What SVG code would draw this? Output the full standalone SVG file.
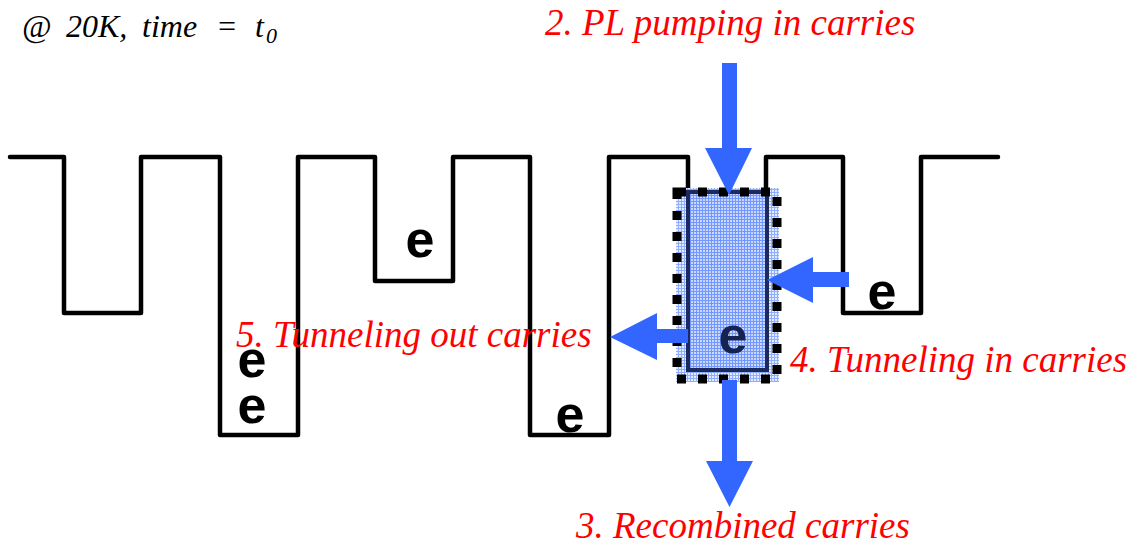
<svg xmlns="http://www.w3.org/2000/svg" width="1137" height="547" viewBox="0 0 1137 547">
<style>
.lbl{font-size:37px;fill:#ff0000}
.hdr{font-size:32px;fill:#000}
.e{font-weight:bold;font-size:52px;fill:#000;text-anchor:middle}
.wall{fill:none;stroke:#000;stroke-width:4.5;stroke-linejoin:round;stroke-linecap:round}
.arr{fill:#3366ff}
</style>
<defs>
<pattern id="grid" width="3" height="3" patternUnits="userSpaceOnUse">
<rect width="3" height="3" fill="#e4ecff"/>
<path d="M0 0.5H3M0.5 0V3" stroke="#8fadff" stroke-width="1"/>
</pattern>
<pattern id="grid2" width="3" height="3" patternUnits="userSpaceOnUse">
<rect width="3" height="3" fill="#c9d8ff"/>
<path d="M0 0.5H3M0.5 0V3" stroke="#7396ff" stroke-width="1"/>
</pattern>
</defs>
<rect width="1137" height="547" fill="#fff"/>
<g id="energy-profile">
<path class="wall" d="M10 157H64V313H141V157H220V435H298V157H375V281H453V157H530V435H609V157H688V192"/>
<path class="wall" d="M766 192V157H843V313H921V157H998"/>
</g>
<g id="active-dot">
<rect x="676" y="188" width="103" height="194" fill="url(#grid)"/>
<rect x="688" y="192" width="79" height="178" fill="url(#grid2)" stroke="#1c2a5e" stroke-width="4"/>
<text class="e" x="733" y="353" font-family="Liberation Sans, Arial, sans-serif" style="fill:#16224f">e</text>
<rect x="677" y="192" width="100" height="187" fill="none" stroke="#000" stroke-width="9" stroke-dasharray="9 12"/>
</g>
<g id="connectors">
<path class="arr" d="M722 63H737V148H752L729 195L705 148H722Z"/>
<path class="arr" d="M722 380H737V461H753L729.5 507L706 461H722Z"/>
<path class="arr" d="M849 272V287H813V303L767 280L813 257V272Z"/>
<path class="arr" d="M688 329V343H657V360L610 337L657 313V329Z"/>
</g>
<g id="electrons">
<text class="e" x="420" y="257" font-family="Liberation Sans, Arial, sans-serif">e</text>
<text class="e" x="252" y="377" font-family="Liberation Sans, Arial, sans-serif">e</text>
<text class="e" x="252" y="423" font-family="Liberation Sans, Arial, sans-serif">e</text>
<text class="e" x="570" y="432" font-family="Liberation Sans, Arial, sans-serif">e</text>
<text class="e" x="882" y="309" font-family="Liberation Sans, Arial, sans-serif">e</text>
</g>
<g id="labels">
<text class="hdr" y="37" font-family="Liberation Serif" font-style="italic"><tspan x="22">@</tspan><tspan x="66">20K,</tspan><tspan x="142">time</tspan><tspan x="216">=</tspan><tspan x="255">t</tspan><tspan x="266" dy="6" font-size="22">0</tspan></text>
<text class="lbl" x="545" y="35" font-family="Liberation Serif" font-style="italic">2. PL pumping in carries</text>
<text class="lbl" x="236" y="347" font-family="Liberation Serif" font-style="italic">5. Tunneling out carries</text>
<text class="lbl" x="790" y="372" font-family="Liberation Serif" font-style="italic">4. Tunneling in carries</text>
<text class="lbl" x="576" y="538" font-family="Liberation Serif" font-style="italic">3. Recombined carries</text>
</g>
</svg>
